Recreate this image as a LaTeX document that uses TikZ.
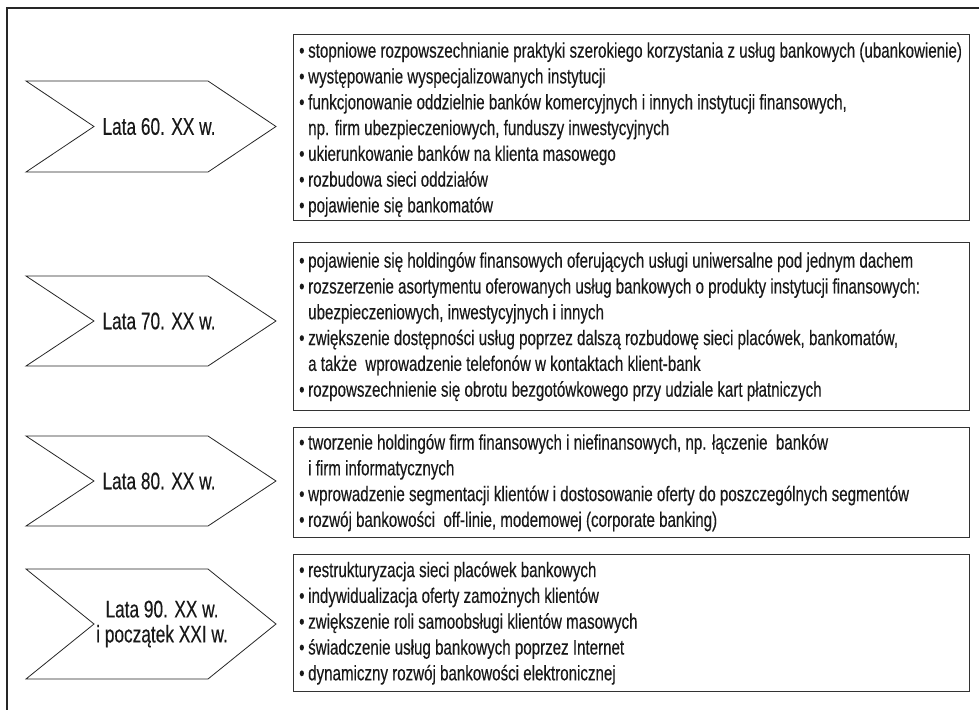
\documentclass[tikz,border=0pt]{standalone}
\usepackage{fontspec}
\setmainfont[FakeStretch=0.72,FakeBold=0.25]{Liberation Sans}
\newcommand\bu{\makebox[9pt][l]{\textbullet}}
\newcommand\ii{\hspace*{9pt}}
\begin{document}
\begin{tikzpicture}[x=1pt,y=-1pt,
  frame/.style={draw=black!85,line width=1.4pt},
  chev/.style={draw=black!85,line width=0.8pt,fill=white},
  box/.style={draw=black!80,line width=1.3pt,rectangle,inner sep=0pt,minimum width=676pt,anchor=north west},
  txt/.style={anchor=west,align=left,inner sep=0pt,text=black!90,font=\fontsize{21}{25.8}\selectfont},
  lab/.style={align=center,inner sep=0pt,text=black!90,font=\fontsize{24}{25}\selectfont}]
\useasboundingbox (0,0) rectangle (979,709);
\coordinate (fa) at (7,730);
\coordinate (fb) at (7,8);
\coordinate (fc) at (1000,8);
\draw[frame] (fa) -- (fb) -- (fc);

% chevrons
\foreach \t/\b in {81/172, 276/366, 436/526, 569/679}{
  \draw[chev] (26,\t) -- (208,\t) -- (276,{(\t+\b)/2}) -- (208,\b) -- (26,\b) -- (94,{(\t+\b)/2}) -- cycle;
}
\node[lab] (c1) at (159,126.5) {Lata 60. XX w.};
\node[lab] (c2) at (159,321) {Lata 70. XX w.};
\node[lab] (c3) at (159,481) {Lata 80. XX w.};
\node[lab] (c4) at (162,624) {Lata 90. XX w.\\ i początek XXI w.};

% boxes
\node[box,minimum height=186pt] (b1) at (293,34) {};
\node[box,minimum height=168pt] (b2) at (293,242) {};
\node[box,minimum height=110pt] (b3) at (293,427) {};
\node[box,minimum height=137pt] (b4) at (293,554) {};

\node[txt] (t1) at ([xshift=6pt,yshift=-2pt]b1.west) {%
\bu stopniowe rozpowszechnianie praktyki szerokiego korzystania z usług bankowych (ubankowienie)\\
\bu występowanie wyspecjalizowanych instytucji\\
\bu funkcjonowanie oddzielnie banków komercyjnych i innych instytucji finansowych,\\
\ii np. firm ubezpieczeniowych, funduszy inwestycyjnych\\
\bu ukierunkowanie banków na klienta masowego\\
\bu rozbudowa sieci oddziałów\\
\bu pojawienie się bankomatów};

\node[txt] (t2) at ([xshift=6pt]b2.west) {%
\bu pojawienie się holdingów finansowych oferujących usługi uniwersalne pod jednym dachem\\
\bu rozszerzenie asortymentu oferowanych usług bankowych o produkty instytucji finansowych:\\
\ii ubezpieczeniowych, inwestycyjnych i innych\\
\bu zwiększenie dostępności usług poprzez dalszą rozbudowę sieci placówek, bankomatów,\\
\ii a także\ \ wprowadzenie telefonów w kontaktach klient-bank\\
\bu rozpowszechnienie się obrotu bezgotówkowego przy udziale kart płatniczych};

\node[txt] (t3) at ([xshift=6pt]b3.west) {%
\bu tworzenie holdingów firm finansowych i niefinansowych, np. łączenie\ \ banków\\
\ii i firm informatycznych\\
\bu wprowadzenie segmentacji klientów i dostosowanie oferty do poszczególnych segmentów\\
\bu rozwój bankowości\ \ off-linie, modemowej (corporate banking)};

\node[txt] (t4) at ([xshift=6pt]b4.west) {%
\bu restrukturyzacja sieci placówek bankowych\\
\bu indywidualizacja oferty zamożnych klientów\\
\bu zwiększenie roli samoobsługi klientów masowych\\
\bu świadczenie usług bankowych poprzez Internet\\
\bu dynamiczny rozwój bankowości elektronicznej};
\end{tikzpicture}
\end{document}
